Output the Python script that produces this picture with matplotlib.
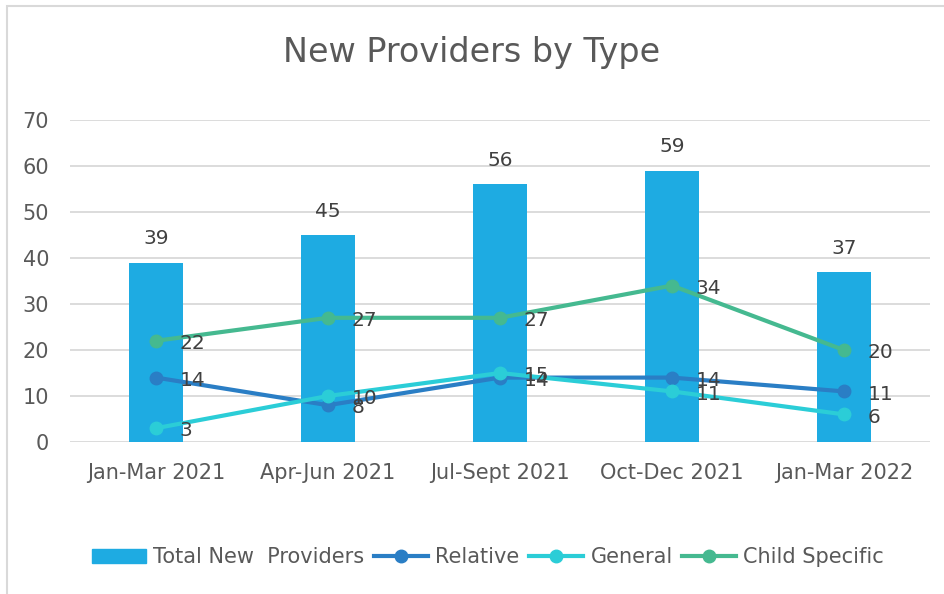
import matplotlib.pyplot as plt
from matplotlib.patches import Rectangle
from matplotlib.lines import Line2D
import numpy as np

quarters = ['Jan-Mar 2021', 'Apr-Jun 2021', 'Jul-Sept 2021', 'Oct-Dec 2021', 'Jan-Mar 2022']
total_new = [39, 45, 56, 59, 37]
relative = [14, 8, 14, 14, 11]
general = [3, 10, 15, 11, 6]
child_specific = [22, 27, 27, 34, 20]

bar_color = '#1EABE2'
line_series = [
    ('Relative', relative, '#2A7EC5'),
    ('General', general, '#2BCDD7'),
    ('Child Specific', child_specific, '#45B990'),
]
text_color = '#595959'
label_color = '#404040'

plt.rcParams['font.family'] = ['DejaVu Sans']

fig = plt.figure(figsize=(9.44, 5.94), dpi=100)
ax = fig.add_axes([0.0742, 0.2559, 0.9108, 0.5421])

x = np.arange(len(quarters))
ax.bar(x, total_new, width=0.315, color=bar_color, zorder=2)
for xi, v in zip(x, total_new):
    ax.annotate(str(v), (xi, v), xytext=(0, 17), textcoords='offset points',
                ha='center', va='center', fontsize=14.5, color=label_color)

handles = [Rectangle((0, 0), 1, 1, color=bar_color)]
for name, vals, col in line_series:
    ax.plot(x, vals, color=col, lw=3, marker='o', ms=9, zorder=3,
            solid_capstyle='round')
    for xi, v in zip(x, vals):
        ax.annotate(str(v), (xi, v), xytext=(17, -2), textcoords='offset points',
                    ha='left', va='center', fontsize=14.5, color=label_color, zorder=4)
    handles.append(Line2D([], [], color=col, lw=3, marker='o', ms=9))

ax.set_xlim(-0.5, 4.5)
ax.set_ylim(0, 70)
ax.set_yticks(range(0, 71, 10))
ax.set_xticks(x)
ax.set_xticklabels(quarters)
ax.tick_params(axis='both', length=0, labelsize=15, colors=text_color)
ax.tick_params(axis='x', pad=15)
ax.tick_params(axis='y', pad=15)
ax.yaxis.grid(True, color='#D9D9D9', lw=1.3, zorder=0)
ax.set_axisbelow(True)
for s in ax.spines.values():
    s.set_visible(False)

fig.suptitle('New Providers by Type', y=0.94, fontsize=24, color=text_color)

labels = ['Total New  Providers', 'Relative', 'General', 'Child Specific']
fig.legend(handles, labels, loc='center', bbox_to_anchor=(0.517, 0.062), ncol=4,
           frameon=False, fontsize=15, labelcolor=text_color, handlelength=2.6,
           handletextpad=0.35, columnspacing=0.45)

# outer chart border (right and bottom edges run off the picture)
fig.add_artist(Rectangle((7 / 944, -10 / 594), 960 / 944, 598 / 594, transform=fig.transFigure,
                         fill=False, edgecolor='#D9D9D9', lw=1.5))

fig.savefig('out.png', dpi=100)
